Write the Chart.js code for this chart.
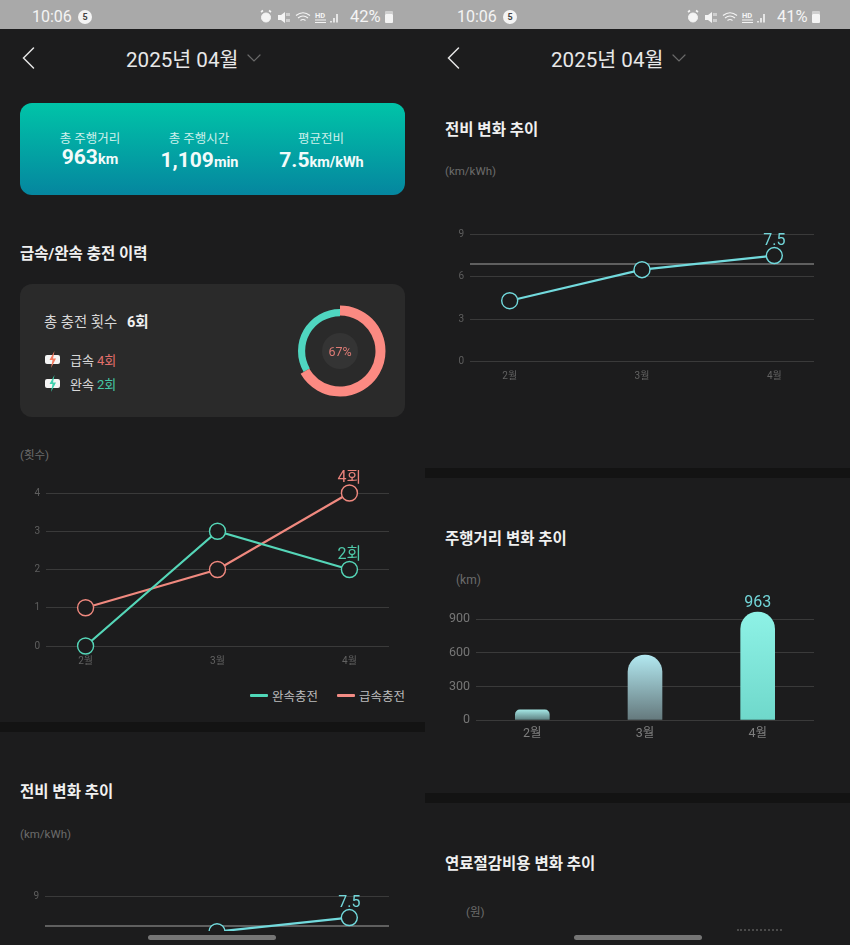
<!DOCTYPE html>
<html lang="ko">
<head>
<meta charset="utf-8">
<script src="https://cdn.jsdelivr.net/npm/chart.js@4"></script>
<style>
  html, body { margin: 0; padding: 0; background: #1c1c1d; }
  body { position: relative; width: 850px; height: 945px; overflow: hidden; font-family: Roboto, "Noto Sans CJK KR", sans-serif; color: #e8e8e8; }
  .t, .tc { position: absolute; white-space: nowrap; line-height: 1; }
  .t { transform: translateY(-50%); }
  .tc { transform: translate(-50%, -50%); }
  .box { position: absolute; }
  .title { font-size: 15.5px; font-weight: 700; color: #f0f0f0; }
  .unit { font-size: 11.5px; color: #6c6c6c; }
  .status { position: absolute; top: 0; height: 29px; background: #a9a9a9; }
  .clock { font-size: 16px; color: #f4f4f4; }
  .badge { position: absolute; top: 10px; width: 14px; height: 14px; border-radius: 50%; background: #f4f4f4; color: #444; font-size: 9px; font-weight: 700; line-height: 14px; text-align: center; }
  .sep { position: absolute; height: 10px; background: #131313; }
  .handle { position: absolute; top: 935px; height: 5px; width: 128px; border-radius: 3px; background: #757575; }
  .card-label { font-size: 12.5px; color: #cff1ec; }
  .card-val { font-size: 21px; font-weight: 700; color: #f2fbfa; }
  .card-val small { font-size: 14.5px; font-weight: 700; }
  .legend-line { position: absolute; top: 694px; width: 18px; height: 3px; border-radius: 1px; }
  canvas { position: absolute; left: 0; top: 0; }
</style>
</head>
<body>
  <div class="status" style="left:0;width:850px"></div>
  <div class="t clock" style="left:32px;top:17px">10:06</div>
  <div class="badge" style="left:78px">5</div>
  <div class="t clock" style="left:457px;top:17px">10:06</div>
  <div class="badge" style="left:503px">5</div>
  <div id="icons-left"></div>
  <div id="icons-right"></div>
  <div class="t clock" style="left:350px;top:17px;font-size:16.5px">42%</div>
  <div class="t clock" style="left:777px;top:17px;font-size:16.5px">41%</div>

  <svg class="box" style="left:0;top:29px" width="850" height="60" fill="none" stroke-linecap="round">
    <path d="M33.5 19 L23.5 29 L33.5 39" stroke="#e4e4e4" stroke-width="1.5"/>
    <path d="M458.5 19 L448.5 29 L458.5 39" stroke="#e4e4e4" stroke-width="1.5"/>
    <path d="M248 26 L254 32 L260 26" stroke="#6a6a6a" stroke-width="1.2"/>
    <path d="M673 26 L679 32 L685 26" stroke="#6a6a6a" stroke-width="1.2"/>
  </svg>
  <div class="t" style="left:126px;top:60px;font-size:20.6px;color:#e8e8e8">2025년 04월</div>
  <div class="t" style="left:551px;top:60px;font-size:20.6px;color:#e8e8e8">2025년 04월</div>

  <!-- summary card -->
  <div class="box" style="left:20px;top:103px;width:385px;height:92px;border-radius:12px;background:linear-gradient(#00c4a8,#05869f)"></div>
  <div class="tc card-label" style="left:90px;top:139px">총 주행거리</div>
  <div class="tc card-label" style="left:199px;top:139px">총 주행시간</div>
  <div class="tc card-label" style="left:321px;top:139px">평균전비</div>
  <div class="tc card-val" style="left:90px;top:157px">963<small>km</small></div>
  <div class="tc card-val" style="left:199.5px;top:160px">1,109<small>min</small></div>
  <div class="tc card-val" style="left:321.5px;top:160px">7.5<small>km/kWh</small></div>

  <div class="t title" style="left:20px;top:255px">급속/완속 충전 이력</div>

  <!-- charge card -->
  <div class="box" style="left:20px;top:284px;width:385px;height:133px;border-radius:12px;background:#2a2a2a"></div>
  <div class="t" style="left:44px;top:323px;font-size:14.4px;color:#d8d8d8">총 충전 횟수</div>
  <div class="t" style="left:127px;top:323px;font-size:14.5px;font-weight:700;color:#f0f0f0">6회</div>
  <svg class="box" style="left:43px;top:351px" width="20" height="42" fill="none">
    <rect x="2" y="4" width="15" height="9" rx="2" fill="#f4f4f4"/>
    <path d="M11.5 0 L6.5 9 H9.5 L8 17 L13 7.5 H10 Z" fill="#f2795f"/>
    <rect x="2" y="28" width="15" height="9" rx="2" fill="#f4f4f4"/>
    <path d="M11.5 24 L6.5 33 H9.5 L8 41 L13 31.5 H10 Z" fill="#3fd0ae"/>
  </svg>
  <div class="t" style="left:70px;top:360px;font-size:13px;color:#d8d8d8">급속</div>
  <div class="t" style="left:97px;top:360px;font-size:13px;color:#e5706c">4회</div>
  <div class="t" style="left:70px;top:384px;font-size:13px;color:#d8d8d8">완속</div>
  <div class="t" style="left:97px;top:384px;font-size:13px;color:#45c7a6">2회</div>
  <div class="box" style="left:290px;top:301px;width:100px;height:100px"><canvas id="ring-slow"></canvas><canvas id="ring-fast"></canvas></div>
  <div class="box" style="left:322px;top:333px;width:36px;height:36px;border-radius:50%;background:#343434"></div>
  <div class="tc" style="left:340px;top:352px;font-size:12.5px;color:#dd7b75">67%</div>

  <!-- charge history chart -->
  <div class="t unit" style="left:20px;top:456px">(횟수)</div>
  <div class="box" style="left:0;top:470px;width:425px;height:210px"><canvas id="charge-chart"></canvas></div>
  <div class="legend-line" style="left:250px;background:#4fd8b8"></div>
  <div class="t" style="left:272px;top:697px;font-size:12.5px;color:#bdbdbd">완속충전</div>
  <div class="legend-line" style="left:337px;background:#f28b84"></div>
  <div class="t" style="left:359px;top:697px;font-size:12.5px;color:#bdbdbd">급속충전</div>

  <div class="sep" style="left:0;top:722px;width:425px"></div>
  <div class="t title" style="left:20px;top:793px">전비 변화 추이</div>
  <div class="t unit" style="left:20px;top:835px">(km/kWh)</div>
  <div class="box" style="left:0;top:873px;width:425px;height:58px;overflow:hidden"><canvas id="eff-chart-left"></canvas></div>

  <!-- right column -->
  <div class="t title" style="left:445px;top:131px">전비 변화 추이</div>
  <div class="t unit" style="left:445px;top:172px">(km/kWh)</div>
  <div class="box" style="left:425px;top:211px;width:425px;height:190px"><canvas id="eff-chart-right"></canvas></div>

  <div class="sep" style="left:425px;top:468px;width:425px"></div>
  <div class="t title" style="left:445px;top:540px">주행거리 변화 추이</div>
  <div class="t unit" style="left:456px;top:580px;font-size:12px">(km)</div>
  <div class="box" style="left:425px;top:585px;width:425px;height:165px"><canvas id="distance-chart"></canvas></div>

  <div class="sep" style="left:425px;top:793px;width:425px"></div>
  <div class="t title" style="left:445px;top:865px">연료절감비용 변화 추이</div>
  <div class="t unit" style="left:466px;top:913px">(원)</div>
  <div class="box" style="left:737px;top:929px;width:45px;height:0;border-top:2px dotted #4a4a4a"></div>

  <div class="handle" style="left:148px"></div>
  <div class="handle" style="left:574px"></div>

<script>
  const months = ['2월', '3월', '4월'];

  // charge counts
  const slowCharges = [0, 3, 2];
  const fastCharges = [1, 2, 4];
  const chargeTicks = [0, 1, 2, 3, 4];
  const chargeShare = [4, 2]; // fast, slow

  // km/kWh
  const efficiency = [4.3, 6.5, 7.5];
  const effRefLine = [6.9, 6.9];
  const effTicks = [0, 3, 6, 9];

  // km
  const distance = [90, 580, 963];
  const distanceTicks = [0, 300, 600, 900];

  const TEAL = '#55d6b8';
  const PINK = '#f0897f';
  const CYAN = '#72dadd';
  const BG = '#1c1c1d';
  const FONT = 'Roboto, "Noto Sans CJK KR", sans-serif';

  Chart.defaults.font.family = FONT;
  Chart.defaults.animation = false;
  Chart.defaults.responsive = false;
  Chart.defaults.plugins.legend.display = false;
  Chart.defaults.plugins.tooltip.enabled = false;

  // status bar icons, same set on both screens
  function statusIcons(dx) {
    return `<svg class="box" style="left:${258 + dx}px;top:8px" width="90" height="20" fill="none" stroke="#f4f4f4">
      <circle cx="8" cy="9.5" r="4.5" fill="#f4f4f4"/><path d="M3 4 L5 2.5 M13 4 L11 2.5" stroke-width="1.6"/>
      <path d="M20 7 H23 L27 4 V15 L23 12 H20 Z" fill="#f4f4f4" stroke="none"/><path d="M29 5 V8 M31 5 V8 M29 11 V14 M31 11 V14" stroke-width="1"/>
      <path d="M38 7.5 Q45 2 52 7.5 M40 10 Q45 6 50 10 M42.5 12.5 Q45 10.5 47.5 12.5" stroke-width="1.2"/>
      <text x="57" y="10" font-size="7.5" font-weight="700" fill="#f4f4f4" stroke="none" font-family="Roboto">HD</text>
      <path d="M57 12 H68 M57 14.5 H68" stroke-width="1"/>
      <path d="M73 14.5 V13 M76 14.5 V10 M79 14.5 V6" stroke-width="1.6"/>
    </svg>
    <div class="box" style="left:${385 + dx}px;top:14px;width:8px;height:9px;background:#f4f4f4;border-radius:1px"></div>
    <div class="box" style="left:${385 + dx}px;top:11px;width:8px;height:3px;background:#cfcfcf;border-radius:1px 1px 0 0"></div>`;
  }
  document.getElementById('icons-left').innerHTML = statusIcons(0);
  document.getElementById('icons-right').innerHTML = statusIcons(427);

  // draws the end-of-series value above the last point / bar
  const endLabelPlugin = {
    id: 'endLabel',
    afterDatasetsDraw(chart) {
      const { ctx } = chart;
      chart.data.datasets.forEach((ds, i) => {
        if (!ds.endLabel) return;
        const pts = chart.getDatasetMeta(i).data;
        const p = pts[pts.length - 1];
        ctx.save();
        ctx.font = `16px ${FONT}`;
        ctx.fillStyle = ds.endLabelColor;
        ctx.textAlign = 'center';
        ctx.textBaseline = 'middle';
        ctx.fillText(ds.endLabel, p.x, p.y - ds.endLabelGap);
        ctx.restore();
      });
    },
  };

  function pts(values) {
    return values.map((y, x) => ({ x, y }));
  }

  function lineSeries(label, values, color, endLabel, endLabelColor) {
    return {
      label,
      data: pts(values),
      borderColor: color,
      borderWidth: 2.2,
      backgroundColor: BG,
      pointBackgroundColor: BG,
      pointBorderColor: color,
      pointBorderWidth: 1.4,
      pointRadius: 8,
      clip: false,
      tension: 0,
      endLabel,
      endLabelColor,
      endLabelGap: 15,
    };
  }

  // line chart with a pinned plot area; the x axis runs past the first and last month
  function lineChart(id, width, height, datasets, o) {
    const canvas = document.getElementById(id);
    canvas.width = width;
    canvas.height = height;
    return new Chart(canvas, {
      type: 'line',
      data: { datasets },
      options: {
        layout: { padding: { top: o.top, right: 36, left: 0, bottom: 0 } },
        scales: {
          x: {
            type: 'linear', min: -0.3, max: 2.3,
            grid: { display: false, drawTicks: false }, border: { display: false },
            afterBuildTicks: s => { s.ticks = months.map((m, i) => ({ value: i })); },
            afterFit: s => { s.height = o.xHeight; },
            ticks: { color: '#626262', font: { size: 10 }, padding: 9, autoSkip: false, maxRotation: 0, callback: v => months[v] },
          },
          y: {
            min: o.ticks[0], max: o.ticks[o.ticks.length - 1],
            grid: { color: '#3a3a3a', drawTicks: false, lineWidth: 1 }, border: { display: false },
            afterBuildTicks: s => { s.ticks = o.ticks.map(value => ({ value })); },
            afterFit: s => { s.width = o.yWidth; },
            ticks: { color: '#5e5e5e', font: { size: 10 }, padding: 6 },
          },
        },
      },
      plugins: [endLabelPlugin],
    });
  }

  function ring(id, colors, radius, cutout) {
    const canvas = document.getElementById(id);
    canvas.width = 100;
    canvas.height = 100;
    new Chart(canvas, {
      type: 'doughnut',
      data: { labels: ['급속', '완속'], datasets: [{ data: chargeShare, backgroundColor: colors, borderWidth: 0 }] },
      options: { radius, cutout },
    });
  }
  ring('ring-slow', ['transparent', '#4fd6c0'], 42, '83%');
  ring('ring-fast', ['#fb8a82', 'transparent'], 45.5, '78%');

  lineChart('charge-chart', 425, 210, [
    lineSeries('완속충전', slowCharges, TEAL, '2회', '#4fc9a9'),
    lineSeries('급속충전', fastCharges, PINK, '4회', '#e8827a'),
  ], { top: 23, xHeight: 34, yWidth: 46, ticks: chargeTicks });

  function effDatasets() {
    return [
      { label: 'ref', data: [{ x: -0.3, y: effRefLine[0] }, { x: 2.3, y: effRefLine[1] }], borderColor: '#767676', borderWidth: 1.6, pointRadius: 0, order: 2 },
      Object.assign(lineSeries('전비', efficiency, CYAN, '7.5', '#72d5d8'), { order: 1 }),
    ];
  }
  lineChart('eff-chart-right', 425, 190, effDatasets(), { top: 23.4, xHeight: 39.6, yWidth: 45, ticks: effTicks });
  lineChart('eff-chart-left', 425, 190, effDatasets(), { top: 23.4, xHeight: 39.6, yWidth: 45, ticks: effTicks });

  const barTopColors = ['#a2e4e2', '#b2e8f0', '#8ef2e6'];
  const barBottomColors = ['#5d7f80', '#65797d', '#6fd8cb'];

  const distCanvas = document.getElementById('distance-chart');
  distCanvas.width = 425;
  distCanvas.height = 165;
  new Chart(distCanvas, {
    type: 'bar',
    data: {
      labels: months,
      datasets: [{
        label: '주행거리',
        data: distance,
        barThickness: 34,
        borderRadius: { topLeft: 17, topRight: 17 },
        borderSkipped: false,
        backgroundColor: c => {
          const { ctx, chartArea, scales } = c.chart;
          if (!chartArea) return barTopColors[c.dataIndex];
          const g = ctx.createLinearGradient(0, scales.y.getPixelForValue(distance[c.dataIndex]), 0, scales.y.getPixelForValue(0));
          g.addColorStop(0, barTopColors[c.dataIndex]);
          g.addColorStop(1, barBottomColors[c.dataIndex]);
          return g;
        },
        endLabel: '963',
        endLabelColor: '#72d5d8',
        endLabelGap: 9,
      }],
    },
    options: {
      layout: { padding: { top: 23, right: 36, left: 0, bottom: 0 } },
      scales: {
        x: {
          grid: { display: false, drawTicks: false }, border: { display: false },
          afterFit: s => { s.height = 30; },
          ticks: { color: '#7e7e7e', font: { size: 12.5 }, padding: 6 },
        },
        y: {
          min: 0, max: 1000,
          grid: { color: '#3a3a3a', drawTicks: false }, border: { display: false },
          afterBuildTicks: s => { s.ticks = distanceTicks.map(value => ({ value })); },
          afterFit: s => { s.width = 51; },
          ticks: { color: '#767676', font: { size: 12.5 }, padding: 6 },
        },
      },
    },
    plugins: [endLabelPlugin],
  });
</script>
</body>
</html>
